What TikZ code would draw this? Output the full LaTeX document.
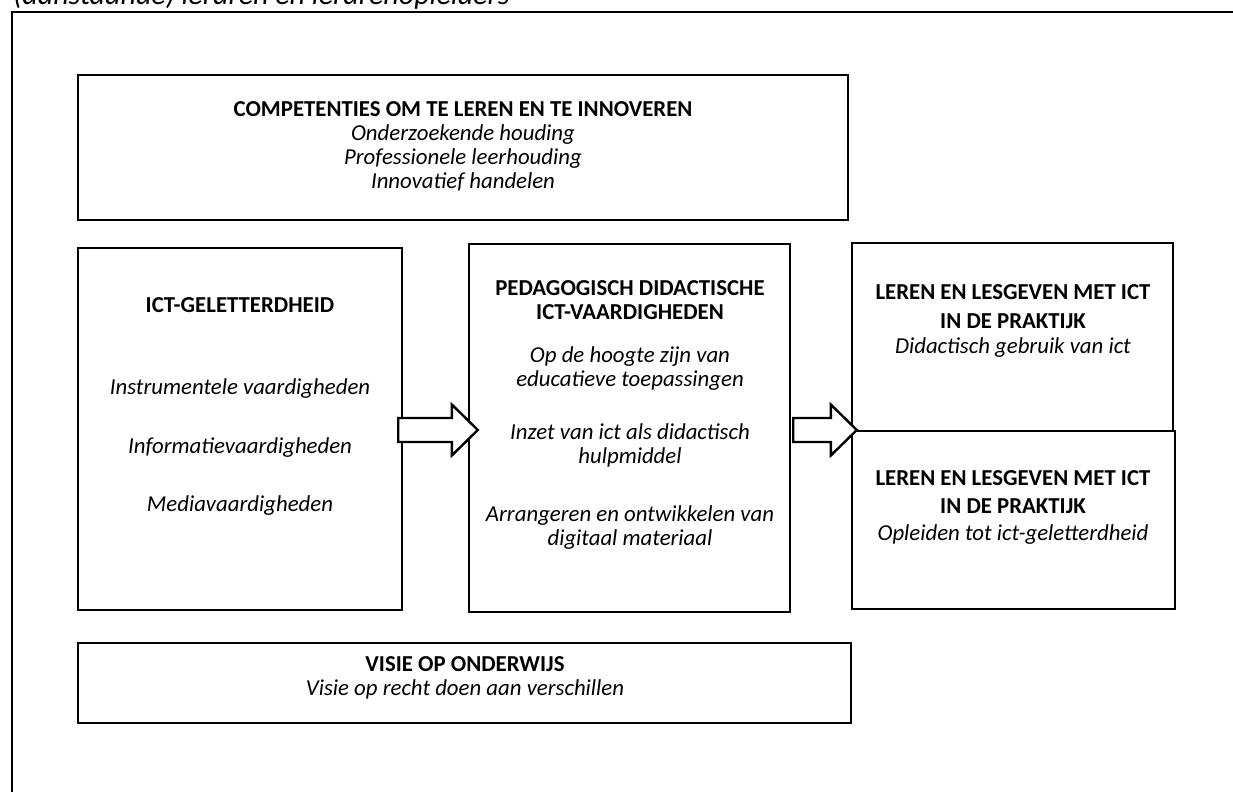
\documentclass[tikz,border=0pt]{standalone}
\usepackage{fontspec}
\setmainfont{Carlito}
\usetikzlibrary{calc}
\tikzset{%
	blok/.style={draw, line width=1.2pt},
	tekst/.style={align=center, inner sep=0pt, font=\fontsize{11.4pt}{12pt}\selectfont},
	pijl/.style={draw, fill=white, line width=1.2pt, line join=miter}}

% blokpijl van #1 naar de punt #2 (zelfde hoogte)
\newcommand{\blokpijl}[2]{%
	\draw[pijl] ($(#1)+(0,-12)$) -- ($(#2)+(-26,-12)$) -- ($(#2)+(-26,-25.5)$) -- (#2)
		-- ($(#2)+(-26,25.5)$) -- ($(#2)+(-26,12)$) -- ($(#1)+(0,12)$) -- cycle;}

\begin{document}
\begin{tikzpicture}[x=0.5pt, y=-0.5pt]
	\useasboundingbox (0,0) rectangle (1233,792);
	\draw[line width=1pt] (12,12) rectangle (1260,820);
	\node[anchor=base west, inner sep=0pt, font=\fontsize{15pt}{18pt}\selectfont\itshape] (titel) at (13,5) {(aanstaande) leraren en lerarenopleiders};

	\node[blok, minimum width=385pt, minimum height=72.5pt] (comp) at (463,147.5) {};
	\node[blok, minimum width=162pt, minimum height=181pt] (ict) at (240,429) {};
	\node[blok, minimum width=160.5pt, minimum height=184pt] (ped) at (629.5,428) {};
	\node[blok, minimum width=160.5pt, minimum height=94pt] (prak1) at (1012.5,337) {};
	\node[blok, minimum width=161.5pt, minimum height=89pt] (prak2) at (1013.5,520) {};
	\node[blok, minimum width=386.5pt, minimum height=40pt] (visie) at (464.5,683) {};

	\node[tekst] (comp-t) at (463,146) {\textbf{COMPETENTIES OM TE LEREN EN TE INNOVEREN}\\
		\textit{Onderzoekende houding}\\ \textit{Professionele leerhouding}\\ \textit{Innovatief handelen}};
	\node[tekst] (ict-t) at (240,406.5) {\textbf{ICT-GELETTERDHEID}\\[29pt]
		\textit{Instrumentele vaardigheden}\\[17.5pt] \textit{Informatievaardigheden}\\[17pt] \textit{Mediavaardigheden}};
	\node[tekst] (ped-t) at (630,415) {\textbf{PEDAGOGISCH DIDACTISCHE}\\ \textbf{ICT-VAARDIGHEDEN}\\[9.5pt]
		\textit{Op de hoogte zijn van}\\ \textit{educatieve toepassingen}\\[14.5pt]
		\textit{Inzet van ict als didactisch}\\ \textit{hulpmiddel}\\[17pt]
		\textit{Arrangeren en ontwikkelen van}\\ \textit{digitaal materiaal}};
	\node[tekst] (prak1-t) at (1013,321) {\textbf{LEREN EN LESGEVEN MET ICT}\\[2.5pt] \textbf{IN DE PRAKTIJK}\\[0.5pt]
		\textit{Didactisch gebruik van ict}};
	\node[tekst] (prak2-t) at (1013,507.5) {\textbf{LEREN EN LESGEVEN MET ICT}\\[2pt] \textbf{IN DE PRAKTIJK}\\[1.5pt]
		\textit{Opleiden tot ict-geletterdheid}};
	\node[tekst] (visie-t) at (465,678) {\textbf{VISIE OP ONDERWIJS}\\ \textit{Visie op recht doen aan verschillen}};

	\coordinate (p1a) at ($(ict.east)+(-5,1)$);
	\coordinate (p1b) at ($(p1a -| ped.west)+(10,0)$);
	\coordinate (p2a) at ($(ped.east)+(2,2)$);
	\coordinate (p2b) at ($(p2a -| prak1.west)+(6,0)$);
	\blokpijl{p1a}{p1b}
	\blokpijl{p2a}{p2b}
\end{tikzpicture}
\end{document}
